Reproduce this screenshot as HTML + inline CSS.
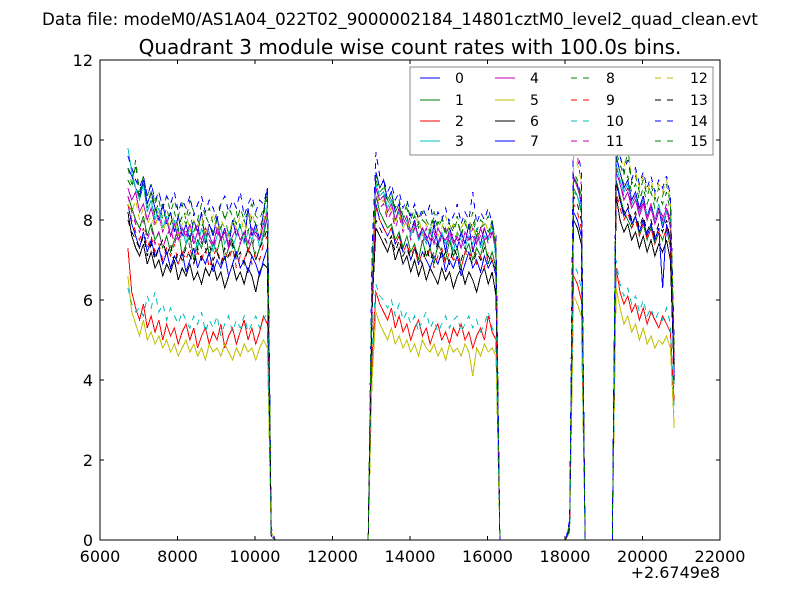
<!DOCTYPE html>
<html><head><meta charset="utf-8">
<style>
html,body{margin:0;padding:0;background:#fff;}
svg{display:block;font-family:"DejaVu Sans","Liberation Sans",sans-serif;}
</style></head>
<body>
<svg id="chart" width="800" height="600" viewBox="0 0 800 600">
<rect x="0" y="0" width="800" height="600" fill="#fff"/>
<text x="400" y="25" text-anchor="middle" font-size="16.7">Data file: modeM0/AS1A04_022T02_9000002184_14801cztM0_level2_quad_clean.evt</text>
<text x="410" y="54" text-anchor="middle" font-size="20">Quadrant 3 module wise count rates with 100.0s bins.</text>
<defs><clipPath id="plotclip"><rect x="100" y="60" width="620" height="480"/></clipPath></defs>
<g id="series" clip-path="url(#plotclip)"></g>
<rect x="100" y="60" width="620" height="480" fill="none" stroke="#000" stroke-width="1"/>
<g id="axes"></g>
<text x="720" y="578" text-anchor="end" font-size="16">+2.6749e8</text>
<g id="legend"></g>
</svg>
<script>
const segStarts = [6720, 13020, 18120, 19320];
const binWidth = 100;
const xTicks = [6000, 8000, 10000, 12000, 14000, 16000, 18000, 20000, 22000];
const yTicks = [0, 2, 4, 6, 8, 10, 12];
const channelLabels = ["0","1","2","3","4","5","6","7","8","9","10","11","12","13","14","15"];
const colors = ["#0000ff","#008000","#ff0000","#00bfbf","#bf00bf","#bfbf00","#000000","#0000ff","#008000","#ff0000","#00bfbf","#bf00bf","#bfbf00","#000000","#0000ff","#008000"];

const ch0 = [[9.3,9.1,8.8,8.6,9.0,8.4,8.7,8.3,8.0,8.4,7.9,8.2,7.7,8.1,7.6,7.9,7.5,8.0,7.7,8.2,7.4,7.9,7.6,8.1,7.5,7.8,7.3,8.0,7.6,7.9,7.4,8.3,7.6,7.9,7.5,8.2,8.8,0.2],
[6.5,9.2,8.8,9.0,8.5,8.7,8.2,8.4,7.9,8.1,7.7,8.0,7.5,7.8,7.6,7.3,7.9,7.4,7.7,7.2,7.8,7.5,7.3,7.7,7.4,7.9,7.2,7.6,7.4,7.8,7.5,8.0,7.2],
[0.3,9.0,8.9,8.4],[9.6,9.2,8.8,9.0,8.5,8.7,8.3,8.6,8.1,8.4,8.0,8.3,7.8,8.2,8.0,4.2]];
const ch1 = [[8.6,8.3,8.0,7.8,8.1,7.6,7.9,7.5,7.7,7.3,7.6,7.2,7.5,7.8,7.1,7.4,7.6,7.0,7.5,7.3,7.7,7.1,7.4,7.2,7.6,7.0,7.3,7.5,7.1,7.4,7.7,7.2,7.5,7.0,7.3,7.6,8.1,0.1],
[6.0,8.6,8.2,8.0,7.8,7.9,7.5,7.7,7.3,7.6,7.2,7.4,7.0,7.5,7.1,7.3,6.9,7.4,7.2,7.0,7.5,7.1,7.3,6.8,7.2,7.4,7.0,7.3,7.1,7.5,6.9,7.2,6.8],
[0.3,8.8,8.6,8.2],[9.0,8.6,8.2,8.0,7.8,8.1,7.6,7.9,7.5,7.8,7.4,7.7,7.5,7.8,7.3,4.5]];
const ch2 = [[7.3,6.2,5.8,5.5,5.9,5.3,5.6,5.2,5.5,5.0,5.4,5.1,5.3,4.9,5.2,5.4,5.0,5.3,4.8,5.1,5.3,4.9,5.2,5.0,5.4,4.8,5.1,5.3,4.9,5.2,5.5,5.0,5.3,4.9,5.2,5.6,5.4,0.1],
[4.5,6.2,5.9,5.7,5.5,5.8,5.3,5.6,5.2,5.4,5.0,5.3,5.5,5.1,5.3,4.9,5.2,5.4,5.0,5.2,4.9,5.3,5.1,5.4,5.0,5.2,4.8,5.1,5.3,5.0,5.6,5.2,5.0],
[0.2,6.6,6.4,6.0],[6.8,6.2,5.9,6.1,5.7,5.9,5.5,5.8,5.4,5.7,5.5,5.3,5.6,5.4,5.2,3.4]];
const ch3 = [[9.8,9.2,8.8,8.5,8.9,8.2,8.5,8.0,8.3,7.8,8.1,7.6,8.0,7.5,7.8,7.4,7.9,7.6,7.3,7.8,7.5,7.7,7.2,7.6,7.8,7.4,7.7,7.3,7.6,7.9,7.4,7.7,7.5,7.8,7.3,7.7,8.4,0.2],
[6.8,8.9,8.6,8.7,8.3,8.5,8.0,8.2,7.8,8.0,7.6,7.9,7.5,7.7,7.4,7.8,7.5,7.3,7.7,7.4,7.6,7.2,7.7,7.5,7.3,7.6,7.4,7.8,7.3,7.6,7.5,7.9,7.0],
[0.3,8.7,8.6,8.3],[9.4,9.0,8.7,8.9,8.4,8.6,8.2,8.5,8.1,8.3,8.0,8.4,7.9,8.2,8.1,3.9]];
const ch4 = [[8.8,8.5,8.7,8.2,8.4,8.0,8.3,7.9,8.1,7.7,8.0,7.6,7.9,7.5,7.8,7.6,7.9,7.4,7.7,7.5,7.8,7.6,7.4,7.8,7.5,7.7,7.3,7.6,7.8,7.5,7.7,7.4,7.8,7.6,7.5,7.9,8.2,0.1],
[6.3,8.8,8.5,8.6,8.2,8.4,8.0,8.3,7.9,8.1,7.7,7.9,7.6,7.8,7.5,7.7,7.4,7.8,7.6,7.5,7.7,7.4,7.6,7.3,7.7,7.5,7.6,7.4,7.8,7.5,7.6,7.7,7.3],
[0.3,9.1,8.8,8.5],[9.2,8.9,8.5,8.7,8.3,8.5,8.1,8.4,8.0,8.3,7.9,8.2,8.0,8.3,7.8,4.4]];
const ch5 = [[6.6,5.7,5.4,5.1,5.5,5.0,5.2,4.9,5.1,4.8,5.0,4.7,4.9,4.6,4.8,5.0,4.7,4.9,4.6,4.8,4.5,4.9,4.7,4.8,4.6,4.9,4.7,4.5,4.8,4.6,4.9,4.7,4.8,4.5,4.8,5.0,4.8,0.1],
[4.0,5.7,5.4,5.2,5.0,5.3,4.9,5.1,4.8,5.0,4.7,4.9,4.6,5.0,4.8,4.7,4.9,4.6,4.8,4.5,4.9,4.7,4.8,4.6,4.9,4.7,4.1,4.8,4.6,4.9,4.7,4.8,4.6],
[0.2,6.1,5.9,5.6],[6.3,5.8,5.4,5.6,5.2,5.4,5.0,5.3,4.9,5.1,4.8,5.0,4.9,5.1,4.8,2.8]];
const ch6 = [[8.2,7.6,7.3,7.1,7.4,6.9,7.2,6.8,7.0,6.6,6.9,6.7,7.0,6.5,6.8,6.6,6.9,6.5,6.7,6.4,6.8,6.6,6.9,6.5,6.7,6.3,6.6,6.9,6.5,6.7,6.4,6.8,6.6,6.2,6.7,6.9,6.8,0.1],
[5.8,7.8,7.6,7.4,7.2,7.5,7.0,7.3,6.9,7.1,6.7,7.0,6.6,6.9,6.5,6.8,6.6,6.4,6.8,6.5,6.7,6.3,6.6,6.8,6.4,6.7,6.5,6.2,6.6,6.8,6.4,6.7,6.1],
[0.3,8.0,7.8,7.4],[8.6,8.0,7.7,7.9,7.5,7.7,7.3,7.6,7.2,7.5,7.1,7.4,7.2,7.5,7.0,4.0]];
const ch7 = [[8.4,7.9,7.6,7.3,7.7,7.2,7.5,7.1,7.3,6.9,7.2,6.8,7.1,6.9,7.2,6.7,7.0,7.3,6.8,7.1,6.9,7.2,6.7,7.0,6.8,7.1,6.6,6.9,7.2,6.8,7.0,6.7,7.1,6.9,6.6,7.0,7.3,0.1],
[6.2,8.4,8.0,7.8,7.6,7.8,7.4,7.6,7.2,7.4,7.0,7.3,6.9,7.2,7.0,6.8,7.1,6.9,7.2,6.7,7.0,6.8,7.1,6.6,6.9,7.2,6.8,7.0,6.7,7.1,6.8,7.0,6.6],
[0.3,8.2,8.0,7.6],[9.0,8.5,8.1,8.3,7.9,8.1,7.7,8.0,7.6,7.9,7.5,7.8,6.3,7.9,7.5,4.1]];
const ch8 = [[9.3,8.9,9.5,8.7,9.1,8.6,8.9,8.4,8.7,8.3,8.6,8.2,8.5,8.1,8.4,8.0,8.5,8.2,8.0,8.4,8.1,8.3,7.9,8.2,8.4,8.0,8.3,8.1,7.9,8.3,8.0,8.2,8.4,8.1,8.0,8.3,8.7,0.2],
[7.0,9.1,8.8,8.9,8.5,8.7,8.3,8.5,8.1,8.4,8.0,8.3,7.9,8.2,8.0,7.8,8.2,7.9,8.1,7.7,8.0,7.8,8.1,7.6,8.0,7.8,8.2,7.7,8.0,7.9,8.1,7.8,7.4],
[0.4,9.2,9.0,8.6],[9.5,9.2,8.9,9.1,8.7,8.9,8.5,8.8,8.4,8.7,8.3,8.6,8.4,8.7,8.2,4.6]];
const ch9 = [[8.4,8.0,7.7,7.5,7.8,7.3,7.6,7.2,7.4,7.0,7.3,7.1,7.4,6.9,7.2,7.0,7.3,6.9,7.2,7.0,7.3,6.8,7.1,7.3,6.9,7.2,7.0,7.3,6.8,7.1,7.0,7.3,6.9,7.2,7.0,7.4,7.6,0.1],
[5.5,8.3,8.0,7.8,7.6,7.8,7.4,7.6,7.2,7.4,7.1,7.3,6.9,7.2,7.0,7.3,6.8,7.1,7.3,6.9,7.2,7.0,7.1,6.8,7.2,7.0,7.3,6.9,7.1,6.8,7.2,7.0,6.7],
[0.3,8.4,8.2,7.8],[8.7,8.3,8.0,8.2,7.8,8.0,7.6,7.9,7.5,7.8,7.4,7.7,7.5,7.8,7.3,4.3]];
const ch10 = [[6.3,5.9,5.7,5.8,5.6,6.1,5.8,6.2,5.7,5.9,5.5,5.8,5.6,5.4,5.7,5.5,5.3,5.6,5.4,5.7,5.2,5.5,5.3,5.6,5.1,5.4,5.6,5.2,5.5,5.3,5.6,5.2,5.4,5.6,5.3,5.5,5.7,0.1],
[4.8,6.4,6.1,6.0,5.8,6.0,5.6,5.9,5.5,5.7,5.4,5.6,5.2,5.5,5.7,5.3,5.5,5.2,5.4,5.6,5.3,5.5,5.6,5.2,5.4,5.6,5.3,5.5,5.2,5.4,5.7,5.3,5.1],
[0.2,6.9,6.7,6.3],[7.0,6.4,6.1,6.3,5.9,6.1,5.7,6.0,5.6,5.8,5.5,5.7,5.5,5.8,5.4,3.2]];
const ch11 = [[8.6,8.2,7.9,7.7,8.0,7.5,7.8,7.4,7.7,7.3,7.6,7.8,7.4,7.7,7.5,7.8,7.3,7.6,7.9,7.4,7.7,7.5,7.3,7.7,7.5,7.8,7.4,7.6,7.8,7.4,7.7,7.5,7.3,7.7,7.5,7.8,8.0,0.1],
[6.0,8.6,8.3,8.4,8.0,8.2,7.8,8.1,7.7,7.9,7.5,7.8,7.6,7.4,7.8,7.5,7.7,7.3,7.6,7.8,7.4,7.7,7.5,7.3,7.7,7.5,7.8,7.4,7.6,7.8,7.4,7.7,7.2],
[0.4,10.2,9.6,8.9],[9.3,8.9,8.6,8.8,8.4,8.6,8.2,8.5,8.1,8.4,8.0,8.3,8.1,8.4,7.9,4.6]];
const ch12 = [[8.4,8.2,8.5,8.0,8.3,7.9,8.1,7.8,8.2,7.7,8.0,7.8,8.1,7.6,7.9,8.2,7.7,8.0,7.8,8.1,7.6,7.9,8.1,7.7,8.0,7.8,7.6,8.0,7.8,8.1,7.7,7.9,8.2,7.8,7.6,8.0,8.3,0.2],
[6.6,8.7,8.4,8.5,8.1,8.3,7.9,8.2,7.8,8.0,7.7,7.9,8.1,7.6,7.9,7.7,8.0,7.6,7.8,8.1,7.7,7.9,7.6,7.8,8.0,7.7,7.9,7.5,7.8,8.0,7.7,7.9,7.4],
[0.4,9.6,9.4,9.0],[9.9,9.6,9.3,9.8,9.0,9.2,8.8,9.1,8.7,9.0,8.6,8.9,8.7,9.0,8.5,4.8]];
const ch13 = [[8.0,7.7,7.5,7.3,7.6,7.1,7.4,7.0,7.3,7.5,7.1,7.4,6.9,7.2,7.0,7.3,7.1,6.9,7.3,7.0,7.2,7.4,7.0,7.2,6.9,7.3,7.1,7.4,7.0,7.2,6.9,7.3,7.1,7.0,7.3,7.5,7.8,0.1],
[5.7,8.0,7.8,7.6,7.4,7.6,7.2,7.5,7.1,7.3,7.0,7.3,7.1,6.9,7.3,7.0,7.2,7.4,7.0,7.2,6.9,7.3,7.1,7.0,7.3,7.1,6.9,7.2,7.0,7.3,7.1,6.9,6.8],
[0.3,8.6,8.4,8.0],[8.9,8.5,8.2,8.4,8.0,8.2,7.8,8.1,7.7,8.0,7.6,7.9,7.7,8.0,7.5,4.2]];
const ch14 = [[9.6,9.3,9.0,8.8,9.1,8.6,8.9,8.5,8.7,8.3,8.6,8.4,8.7,8.2,8.5,8.3,8.6,8.1,8.4,8.6,8.2,8.5,8.3,8.0,8.4,8.6,8.2,8.5,8.3,8.7,8.1,8.4,8.6,8.2,8.5,8.4,8.8,0.3],
[7.2,9.7,9.1,9.0,8.7,8.9,8.5,8.7,8.3,8.5,8.1,8.4,8.0,8.3,8.1,8.4,7.9,8.2,8.0,8.3,7.9,8.1,8.4,7.9,8.2,8.0,8.7,7.9,8.2,8.0,8.3,7.9,7.6],
[0.5,10.3,9.8,9.2],[9.9,9.6,9.2,9.5,9.0,9.3,8.9,9.2,8.8,9.1,8.7,9.0,8.8,9.1,8.6,4.9]];
const ch15 = [[9.0,8.8,9.4,8.5,8.9,8.3,8.7,8.1,8.5,8.0,8.3,7.9,8.2,7.8,8.1,7.9,8.2,7.7,8.0,7.8,8.1,7.9,7.7,8.0,7.8,8.1,7.6,7.9,8.2,7.8,8.0,7.7,8.1,7.9,7.8,8.1,8.6,0.2],
[6.8,9.0,8.7,8.8,8.4,8.6,8.2,8.4,8.0,8.3,7.9,8.1,7.8,8.0,7.9,7.7,8.1,7.8,8.0,7.6,7.9,7.7,8.0,7.6,7.9,7.7,8.0,7.6,7.8,7.9,7.7,8.0,7.3],
[0.4,9.1,8.9,8.5],[9.7,9.4,9.1,9.8,8.9,9.1,8.7,9.0,8.6,8.9,8.5,8.8,8.6,8.9,8.4,4.7]];
const channels = [ch0,ch1,ch2,ch3,ch4,ch5,ch6,ch7,ch8,ch9,ch10,ch11,ch12,ch13,ch14,ch15];

const NS = "http://www.w3.org/2000/svg";
const X0 = 100, X1 = 720, Y0 = 540, Y1 = 60;
const xMin = 6000, xMax = 22000, yMin = 0, yMax = 12;
function xScale(v){ return X0 + (v - xMin) / (xMax - xMin) * (X1 - X0); }
function yScale(v){ return Y0 - (v - yMin) / (yMax - yMin) * (Y0 - Y1); }

function buildPoints(ch){
  const pts = [];
  for (let s = 0; s < ch.length; s++) {
    const vals = ch[s];
    const start = segStarts[s];
    if (s > 0) pts.push([start - binWidth, 0]);
    for (let i = 0; i < vals.length; i++) pts.push([start + i * binWidth, vals[i]]);
    if (s < ch.length - 1) pts.push([start + vals.length * binWidth, 0]);
  }
  return pts;
}

const gS = document.getElementById("series");
channels.forEach((ch, k) => {
  const pts = buildPoints(ch);
  const p = document.createElementNS(NS, "polyline");
  p.setAttribute("points", pts.map(q => xScale(q[0]).toFixed(2) + "," + yScale(q[1]).toFixed(2)).join(" "));
  p.setAttribute("fill", "none");
  p.setAttribute("stroke", colors[k]);
  p.setAttribute("stroke-width", "1");
  p.setAttribute("shape-rendering", "crispEdges");
  if (k >= 8) p.setAttribute("stroke-dasharray", "6,6");
  
  
  gS.appendChild(p);
});

const gA = document.getElementById("axes");
xTicks.forEach(t => {
  const x = xScale(t);
  [[Y0, Y0 - 4], [Y1, Y1 + 4]].forEach(([a, b]) => {
    const l = document.createElementNS(NS, "line");
    l.setAttribute("x1", x); l.setAttribute("x2", x); l.setAttribute("y1", a); l.setAttribute("y2", b);
    l.setAttribute("stroke", "#000");
    
    
    gA.appendChild(l);
  });
  const tx = document.createElementNS(NS, "text");
  tx.setAttribute("x", x); tx.setAttribute("y", 562);
  tx.setAttribute("text-anchor", "middle"); tx.setAttribute("font-size", "16");
  tx.textContent = String(t);
  
  
  gA.appendChild(tx);
});
yTicks.forEach(t => {
  const y = yScale(t);
  [[X0, X0 + 4], [X1, X1 - 4]].forEach(([a, b]) => {
    const l = document.createElementNS(NS, "line");
    l.setAttribute("x1", a); l.setAttribute("x2", b); l.setAttribute("y1", y); l.setAttribute("y2", y);
    l.setAttribute("stroke", "#000");
    
    
    gA.appendChild(l);
  });
  const tx = document.createElementNS(NS, "text");
  tx.setAttribute("x", 93); tx.setAttribute("y", y + 6);
  tx.setAttribute("text-anchor", "end"); tx.setAttribute("font-size", "16");
  tx.textContent = String(t);
  
  
  gA.appendChild(tx);
});

const gL = document.getElementById("legend");
const box = document.createElementNS(NS, "rect");
box.setAttribute("x", 410); box.setAttribute("y", 67); box.setAttribute("width", 303); box.setAttribute("height", 88);
box.setAttribute("fill", "#fff"); box.setAttribute("stroke", "#888");


gL.appendChild(box);
const colX = [420, 495, 571, 655];
const rowY = [78, 100, 121, 141];
channelLabels.forEach((lab, k) => {
  const c = Math.floor(k / 4), r = k % 4;
  const l = document.createElementNS(NS, "line");
  l.setAttribute("x1", colX[c]); l.setAttribute("x2", colX[c] + 20);
  l.setAttribute("y1", rowY[r]); l.setAttribute("y2", rowY[r]);
  l.setAttribute("stroke", colors[k]);
  if (k >= 8) l.setAttribute("stroke-dasharray", "6,6");
  
  
  gL.appendChild(l);
  const t = document.createElementNS(NS, "text");
  t.setAttribute("x", colX[c] + 35); t.setAttribute("y", rowY[r] + 5);
  t.setAttribute("font-size", "14");
  t.textContent = lab;
  
  
  gL.appendChild(t);
});
</script>
</body></html>
